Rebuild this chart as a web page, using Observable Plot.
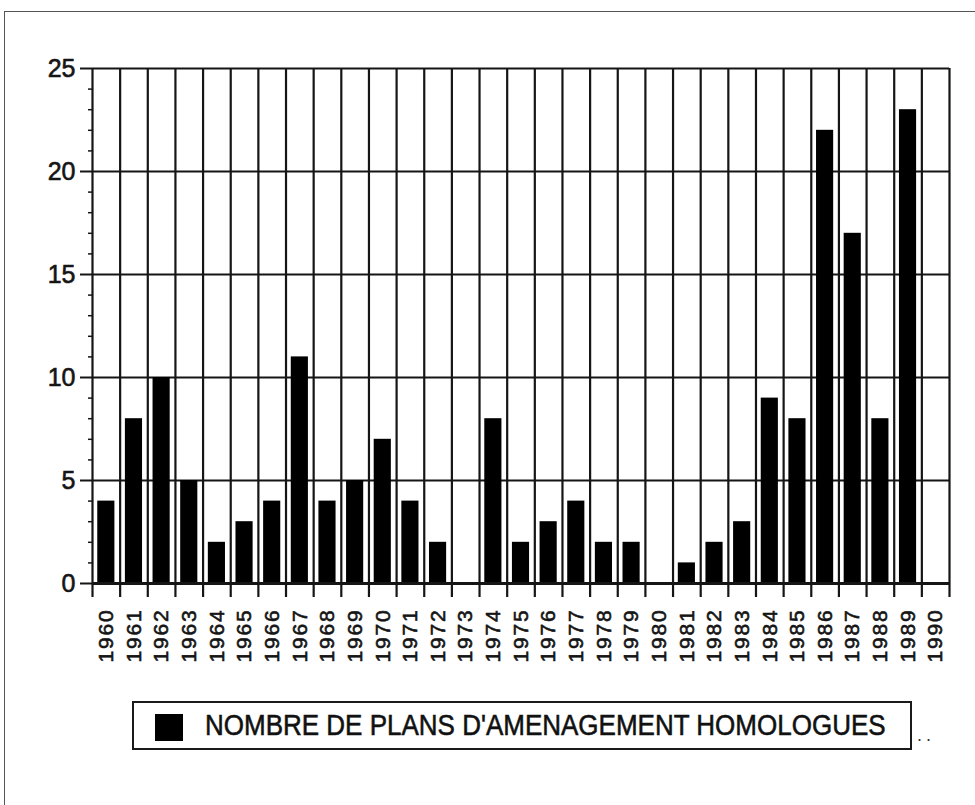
<!DOCTYPE html>
<html>
<head>
<meta charset="utf-8">
<script src="https://cdn.jsdelivr.net/npm/d3@7"></script>
<script src="https://cdn.jsdelivr.net/npm/@observablehq/plot@0.6"></script>
<style>
  html, body { margin: 0; padding: 0; background: #fff; width: 975px; height: 805px; overflow: hidden; }
  #frame { position: absolute; left: 4px; top: 11px; width: 1200px; height: 1200px;
           border-top: 1.5px solid #555; border-left: 1.5px solid #555; }
  #chart { position: absolute; left: 0; top: 0; }
  #chart g[aria-label="x-axis tick label"] text { letter-spacing: 1.8px; }
  #chart g[aria-label$="tick label"] text { stroke: currentColor; stroke-width: 0.6px; }
  #legend { position: absolute; left: 132px; top: 701px; width: 776px; height: 45px;
            border: 2px solid #1a1a1a; box-sizing: content-box;
            font-family: "Liberation Sans", Arial, sans-serif; color: #111; }
  #legend .sw { position: absolute; left: 21px; top: 11px; width: 28px; height: 27px; background: #000; }
  #legend .lab { position: absolute; left: 71px; top: 7px; font-size: 26px; line-height: 30px;
                 white-space: nowrap; transform: scaleY(1.12); transform-origin: left center;
                 -webkit-text-stroke: 0.5px #111; }
  #dots { position: absolute; left: 917px; top: 725px; font-family: "Liberation Sans", Arial, sans-serif;
          font-size: 18px; color: #333; letter-spacing: 4px; }
</style>
</head>
<body>
<div id="frame"></div>
<div id="chart"></div>
<div id="legend"><div class="sw"></div><div class="lab"></div></div>
<div id="dots">..</div>
<script>
const years = [1960,1961,1962,1963,1964,1965,1966,1967,1968,1969,1970,1971,1972,1973,1974,1975,
               1976,1977,1978,1979,1980,1981,1982,1983,1984,1985,1986,1987,1988,1989,1990];
const counts = [4,8,10,5,2,3,4,11,4,5,7,4,2,0,8,2,3,4,2,2,0,1,2,3,9,8,22,17,8,23,0];
const yTicks = [0,5,10,15,20,25];
const yMinorTicks = [1,2,3,4,6,7,8,9,11,12,13,14,16,17,18,19,21,22,23,24];
const legendLabel = "NOMBRE DE PLANS D'AMENAGEMENT HOMOLOGUES";

const data = years.map((year, i) => ({year, count: counts[i]}));
const bounds = years.map(y => y - 0.5).concat([years[years.length - 1] + 0.5]);

const ink = "#151515";

const chart = Plot.plot({
  width: 975,
  height: 690,
  marginLeft: 92,
  marginRight: 26,
  marginTop: 68,
  marginBottom: 107,
  style: {fontFamily: "'Liberation Sans', Arial, sans-serif", color: ink, background: "transparent"},
  x: {type: "linear", domain: [bounds[0], bounds[bounds.length - 1]]},
  y: {domain: [0, 25]},
  marks: [
    Plot.ruleY(yTicks, {stroke: ink, strokeWidth: 2}),
    Plot.ruleX(bounds, {y1: 0, y2: 25, stroke: ink, strokeWidth: 2.2}),
    Plot.rectY(data, {x1: d => d.year - 0.31, x2: d => d.year + 0.31, y: "count", fill: "#000"}),
    Plot.ruleY([0], {stroke: ink, strokeWidth: 3}),
    Plot.axisY({ticks: yTicks, tickSize: 12, tickPadding: 5, fontSize: 25, stroke: ink, strokeWidth: 2, label: null}),
    Plot.axisY({ticks: yMinorTicks, tickSize: 4, tickFormat: () => "", stroke: ink, strokeWidth: 1.5, label: null}),
    Plot.axisX({ticks: bounds, tickSize: 14, tickFormat: () => "", stroke: ink, strokeWidth: 2.2, label: null}),
    Plot.axisX({ticks: years, tickSize: 0, tickPadding: 25, tickRotate: -90, tickFormat: d => String(d),
                fontSize: 21, label: null})
  ]
});
document.getElementById("chart").appendChild(chart);
document.querySelector("#legend .lab").textContent = legendLabel;
</script>
</body>
</html>
